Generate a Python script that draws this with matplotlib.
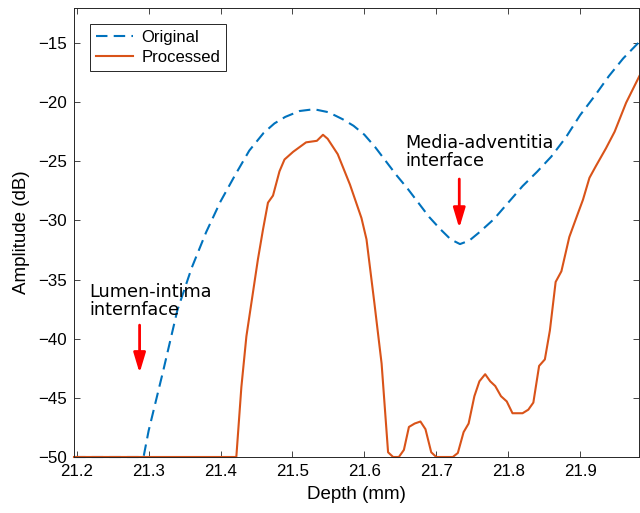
import matplotlib
matplotlib.use("Agg")
import matplotlib.pyplot as plt

plt.rcParams['font.family'] = ['Liberation Sans', 'DejaVu Sans']

# Original (envelope) curve
depth_orig = [21.1963, 21.293, 21.30, 21.32, 21.34, 21.36, 21.38, 21.40, 21.42, 21.44,
              21.46, 21.475, 21.49, 21.51, 21.53, 21.55, 21.57, 21.585, 21.60, 21.615,
              21.63, 21.645, 21.66, 21.675, 21.69, 21.705, 21.72, 21.733, 21.746, 21.76,
              21.78, 21.80, 21.82, 21.84, 21.86, 21.88, 21.90, 21.92, 21.94, 21.96,
              21.9824]
amp_orig = [-50, -50, -47.8, -42.8, -37.6, -34.0, -31.0, -28.4, -26.2, -24.1,
            -22.6, -21.8, -21.25, -20.75, -20.6, -20.85, -21.45, -22.0, -22.75, -23.8,
            -25.0, -26.2, -27.3, -28.5, -29.7, -30.7, -31.6, -32.0, -31.7, -31.0,
            -29.9, -28.5, -27.1, -25.9, -24.6, -23.0, -21.1, -19.5, -17.8, -16.3,
            -14.9]

# Processed curve
depth_proc = [21.1963, 21.422, 21.429, 21.436, 21.452, 21.459, 21.466, 21.473, 21.482, 21.489,
              21.501, 21.519, 21.534, 21.5425, 21.549, 21.563, 21.580, 21.596, 21.603, 21.614,
              21.624, 21.633, 21.640, 21.648, 21.655, 21.662, 21.670, 21.678, 21.685, 21.693,
              21.700, 21.723, 21.730, 21.738, 21.745, 21.753, 21.760, 21.768, 21.775, 21.782,
              21.790, 21.798, 21.806, 21.820, 21.828, 21.835, 21.843, 21.851, 21.858, 21.866,
              21.874, 21.885, 21.897, 21.904, 21.913, 21.922, 21.936, 21.948, 21.964, 21.9824]
amp_proc = [-50, -50, -44.1, -39.8, -33.3, -30.8, -28.5, -27.9, -25.85, -24.85,
            -24.2, -23.4, -23.27, -22.76, -23.1, -24.4, -26.97, -29.8, -31.6, -37.0,
            -42.1, -49.6, -50, -50, -49.4, -47.46, -47.17, -47.0, -47.65, -49.6,
            -50, -50, -49.66, -47.9, -47.17, -44.86, -43.6, -43.0, -43.6, -44.0,
            -44.86, -45.3, -46.3, -46.3, -46.0, -45.4, -42.3, -41.75, -39.3, -35.2,
            -34.3, -31.4, -29.4, -28.25, -26.4, -25.4, -23.9, -22.5, -20.05, -17.8]

x_ticks = [21.2, 21.3, 21.4, 21.5, 21.6, 21.7, 21.8, 21.9]
y_ticks = [-50, -45, -40, -35, -30, -25, -20, -15]

fig = plt.figure(figsize=(6.4, 5.13), dpi=100)
ax = fig.add_axes([74 / 640, 56 / 513, 566 / 640 - 0.001, 449.5 / 513])

ax.plot(depth_orig, amp_orig, color='#0072BD', lw=1.5, dashes=(5.5, 3),
        label='Original', clip_on=False)
ax.plot(depth_proc, amp_proc, color='#D95319', lw=1.5,
        label='Processed', clip_on=False)

ax.set_xlim(21.1963, 21.9824)
ax.set_ylim(-50, -12)
ax.set_xticks(x_ticks)
ax.set_yticks(y_ticks)
ax.set_xticklabels([f'{t:.1f}' for t in x_ticks])
ax.tick_params(direction='in', top=True, right=True, length=4, width=0.6,
               labelsize=12.2, pad=5, colors='#262626', labelcolor='black')
for sp in ax.spines.values():
    sp.set_color('#262626')
    sp.set_linewidth(0.7)

ax.set_xlabel('Depth (mm)', fontsize=13.5, labelpad=5)
ax.set_ylabel('Amplitude (dB)', fontsize=13.5, labelpad=6)

leg = ax.legend(loc='upper left', bbox_to_anchor=(0.0284, 0.963), borderaxespad=0,
                fontsize=12, fancybox=False, framealpha=1, edgecolor='#262626',
                handlelength=2.2, handletextpad=0.55, labelspacing=0.32, borderpad=0.35)
leg.get_frame().set_linewidth(0.7)

# annotations
ax.text(21.657, -24.2, 'Media-adventitia\ninterface', family='DejaVu Sans',
        fontsize=12.7, ha='left', va='center', linespacing=1.0)
ax.text(21.2175, -36.8, 'Lumen-intima\ninternface', family='DejaVu Sans',
        fontsize=12.7, ha='left', va='center', linespacing=1.0)

arrow = dict(arrowstyle='-|>,head_width=0.3,head_length=1.0', color='red',
             lw=2, shrinkA=0, shrinkB=0, mutation_scale=12)
ax.annotate('', xy=(21.732, -30.65), xytext=(21.732, -26.5), arrowprops=arrow)
ax.annotate('', xy=(21.2875, -42.9), xytext=(21.2875, -38.85), arrowprops=arrow)

fig.savefig('out.png', dpi=100)
